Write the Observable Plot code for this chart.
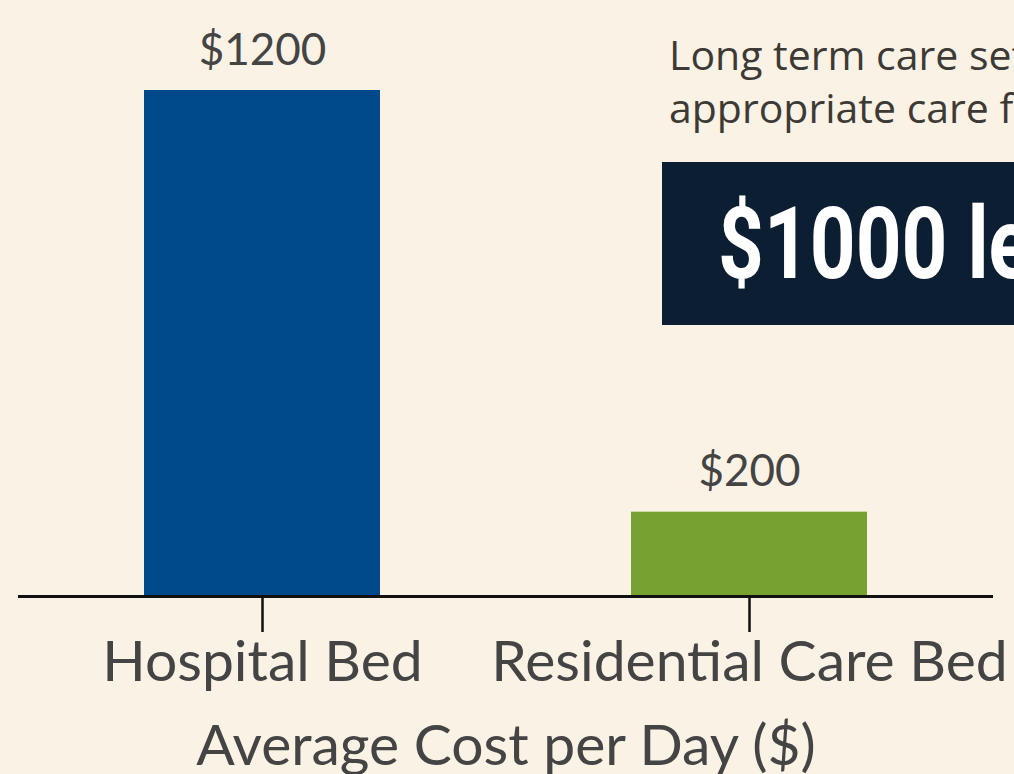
<!DOCTYPE html>
<html>
<head>
<meta charset="utf-8">
<script src="https://cdn.jsdelivr.net/npm/d3@7"></script>
<script src="https://cdn.jsdelivr.net/npm/@observablehq/plot@0.6"></script>
<style>
  html, body { margin: 0; padding: 0; background: #faf2e5; overflow: hidden; width: 1014px; height: 774px; }
  #wrap { position: relative; width: 1014px; height: 774px; overflow: hidden; }
  .note { position: absolute; left: 669px; top: 28px; font-family: "Open Sans", Lato, sans-serif; font-size: 41px; line-height: 53px; color: #3d3a35; white-space: nowrap; }
  .callout { position: absolute; left: 662px; top: 162px; width: 420px; height: 163px; background: #0c1e31; overflow: hidden; }
  .callout span { position: absolute; left: 56px; top: 0; line-height: 163px; color: #fff; white-space: nowrap; font-family: Roboto, "Liberation Sans", sans-serif; font-weight: bold; font-size: 100px; transform: scaleX(0.8); transform-origin: 0 50%; }
</style>
</head>
<body>
<div id="wrap"></div>
<script>
const categories = ["Hospital Bed", "Residential Care Bed"];
const costs = [1200, 200];
const valueLabels = ["$1200", "$200"];
const barColors = ["#004a8c", "#78a22f"];
const axisTitle = "Average Cost per Day ($)";
const noteLines = ["Long term care settings provide more", "appropriate care for elderly patients"];
const calloutText = "$1000 less per day";

const data = categories.map((c, i) => ({category: c, cost: costs[i], label: valueLabels[i], color: barColors[i]}));

const chart = Plot.plot({
  width: 1014,
  height: 774,
  marginLeft: 18,
  marginRight: 21,
  marginTop: 90,
  marginBottom: 178,
  style: {background: "#faf2e5", fontFamily: "Lato, 'Open Sans', sans-serif", overflow: "hidden"},
  x: {domain: categories, paddingInner: 0.516, paddingOuter: 0.257, label: null},
  y: {domain: [0, 1200], axis: null},
  marks: [
    Plot.barY(data, {x: "category", y: "cost", fill: "color"}),
    Plot.text(data, {x: "category", y: "cost", text: "label", dy: -40, fontSize: 44, fill: "#444"}),
    Plot.ruleY([0], {stroke: "#111", strokeWidth: 3}),
    Plot.axisX({tickSize: 36, tickPadding: 8, fontSize: 57, color: "#444", stroke: "#111", strokeWidth: 2.5, label: null}),
    Plot.axisX({ticks: [], label: axisTitle, labelAnchor: "center", labelOffset: 168, fontSize: 57, color: "#444"})
  ]
});
const wrap = document.getElementById("wrap");
wrap.appendChild(chart);
chart.style.position = "absolute";
chart.style.left = "0";
chart.style.top = "0";

const note = document.createElement("div");
note.className = "note";
note.innerHTML = noteLines.join("<br>");
wrap.appendChild(note);

const callout = document.createElement("div");
callout.className = "callout";
const span = document.createElement("span");
span.textContent = calloutText;
callout.appendChild(span);
wrap.appendChild(callout);
</script>
</body>
</html>
